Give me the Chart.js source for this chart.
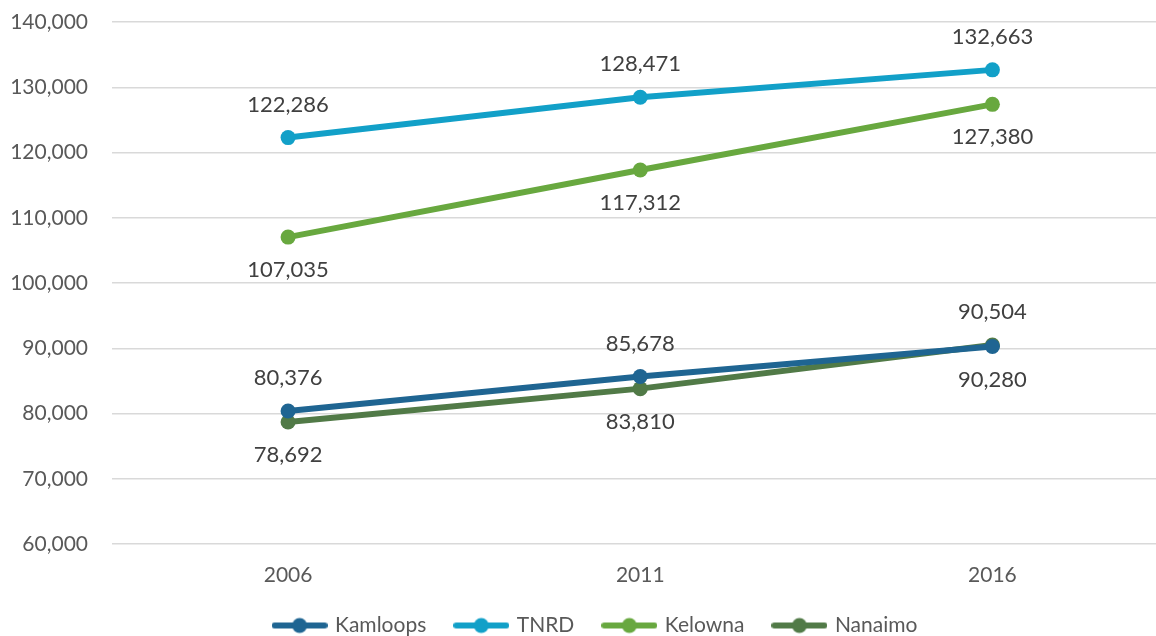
<!DOCTYPE html>
<html>
<head>
<meta charset="utf-8">
<script src="https://cdn.jsdelivr.net/npm/chart.js@4.4.1/dist/chart.umd.min.js"></script>
<style>
  html, body { margin: 0; padding: 0; background: #fff; overflow: hidden; }
  #wrap { width: 1156px; height: 636px; overflow: hidden; position: relative; }
  #box { width: 1176px; height: 646px; position: absolute; left: 0; top: 0; }
</style>
</head>
<body>
<div id="wrap"><div id="box"><canvas id="myChart"></canvas></div></div>
<script>
// populacao por ano de censo
var anos = ['2006', '2011', '2016'];
var kamloops = [80376, 85678, 90280];
var tnrd = [122286, 128471, 132663];
var kelowna = [107035, 117312, 127380];
var nanaimo = [78692, 83810, 90504];

var ticksY = [60000, 70000, 80000, 90000, 100000, 110000, 120000, 130000, 140000];

var fonte = 'Lato, "Open Sans", sans-serif';

// posicao do rotulo de cada ponto: acima ou abaixo
var posRotulos = [
  ['up', 'up', 'down'],
  ['up', 'up', 'up'],
  ['down', 'down', 'down'],
  ['down', 'down', 'up']
];

function fmt(v) {
  return v.toLocaleString('en-US');
}

// marcador da legenda: linha com bolinha no meio
function marcador(cor) {
  var c = document.createElement('canvas');
  c.width = 56;
  c.height = 18;
  var g = c.getContext('2d');
  g.strokeStyle = cor;
  g.lineWidth = 6;
  g.lineCap = 'round';
  g.beginPath();
  g.moveTo(3, 9);
  g.lineTo(53, 9);
  g.stroke();
  g.fillStyle = cor;
  g.beginPath();
  g.arc(28, 9, 7.5, 0, Math.PI * 2);
  g.fill();
  return c;
}

var rotulosPlugin = {
  id: 'rotulos',
  afterDatasetsDraw: function (chart) {
    var ctx = chart.ctx;
    ctx.save();
    ctx.font = '22px ' + fonte;
    ctx.fillStyle = '#404040';
    ctx.textAlign = 'center';
    ctx.textBaseline = 'middle';
    chart.data.datasets.forEach(function (ds, i) {
      var meta = chart.getDatasetMeta(i);
      meta.data.forEach(function (pt, j) {
        var dy = posRotulos[i][j] == 'up' ? -33 : 33;
        ctx.fillText(fmt(ds.data[j]), pt.x, pt.y + dy);
      });
    });
    ctx.restore();
  }
};

// empurra a legenda um pouco para a direita
var legendaPlugin = {
  id: 'legendaDireita',
  afterLayout: function (chart) {
    if (chart.legend) chart.legend.left += 16;
  }
};

function serie(nome, dados, cor) {
  return {
    label: nome,
    data: dados,
    borderColor: cor,
    backgroundColor: cor,
    borderWidth: 6,
    pointRadius: 7.5,
    pointHoverRadius: 7.5,
    pointBackgroundColor: cor,
    pointBorderColor: cor,
    pointBorderWidth: 0,
    pointStyle: 'circle',
    tension: 0
  };
}

var cores = ['#1f6592', '#12a0c8', '#68a83f', '#517a47'];

var dados = {
  labels: anos,
  datasets: [
    serie('Kamloops', kamloops, cores[0]),
    serie('TNRD', tnrd, cores[1]),
    serie('Kelowna', kelowna, cores[2]),
    serie('Nanaimo', nanaimo, cores[3])
  ]
};

var config = {
  type: 'line',
  data: dados,
  plugins: [rotulosPlugin, legendaPlugin],
  options: {
    animation: false,
    responsive: true,
    maintainAspectRatio: false,
    layout: { padding: { top: 22, left: 0, right: 0, bottom: 0 } },
    scales: {
      x: {
        offset: true,
        grid: { display: false },
        border: { display: false },
        ticks: { color: '#595959', font: { family: fonte, size: 21 }, padding: 11 },
        afterFit: function (s) {
          s.height = 41;
          s.paddingLeft = 0;
          s.paddingRight = 0;
        }
      },
      y: {
        min: 60000,
        max: 140000,
        afterBuildTicks: function (s) {
          s.ticks = ticksY.map(function (v) { return { value: v }; });
        },
        grid: { color: '#d9d9d9', lineWidth: 1.5, drawTicks: false },
        border: { display: false },
        ticks: {
          color: '#595959',
          font: { family: fonte, size: 21 },
          padding: 24,
          callback: function (v) { return fmt(v); }
        },
        afterFit: function (s) {
          s.width = 112;
          s.paddingTop = 0;
          s.paddingBottom = 0;
        }
      }
    },
    plugins: {
      tooltip: { enabled: false },
      legend: {
        position: 'bottom',
        labels: {
          color: '#595959',
          font: { family: fonte, size: 21 },
          usePointStyle: true,
          pointStyleWidth: 50,
          padding: 30,
          generateLabels: function (chart) {
            return chart.data.datasets.map(function (ds, i) {
              return {
                text: ds.label,
                fillStyle: ds.borderColor,
                strokeStyle: ds.borderColor,
                fontColor: '#595959',
                lineWidth: 0,
                pointStyle: marcador(ds.borderColor),
                datasetIndex: i
              };
            });
          }
        }
      }
    }
  }
};

window.myChart = new Chart(document.getElementById('myChart'), config);
</script>
</body>
</html>
